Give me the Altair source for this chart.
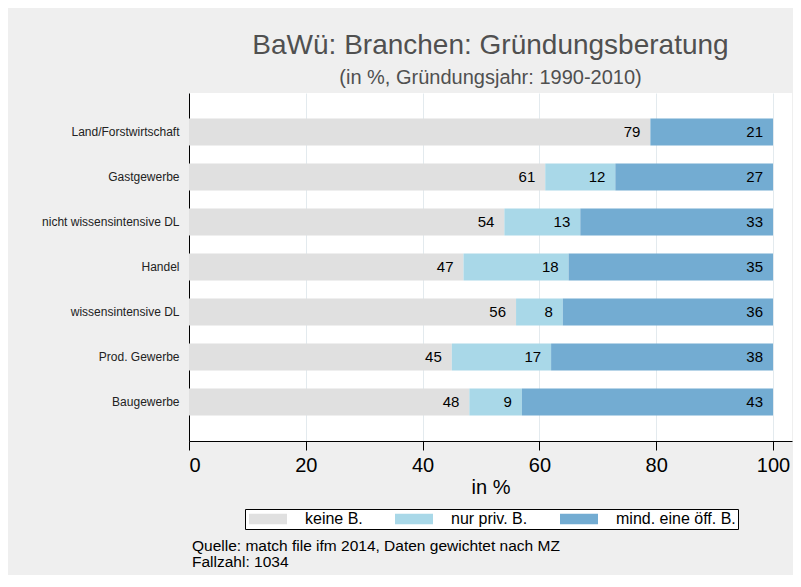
import altair as alt
import pandas as pd

categories = ["Land/Forstwirtschaft", "Gastgewerbe", "nicht wissensintensive DL",
              "Handel", "wissensintensive DL", "Prod. Gewerbe", "Baugewerbe"]
keine = [79, 61, 54, 47, 56, 45, 48]
priv = [0, 12, 13, 18, 8, 17, 9]
oeff = [21, 27, 33, 35, 36, 38, 43]
series = ["keine B.", "nur priv. B.", "mind. eine öff. B."]
colors = ["#e0e0e0", "#a9d8e8", "#73acd2"]
ticks = [0, 20, 40, 60, 80, 100]
footer = ["Quelle: match file ifm 2014, Daten gewichtet nach MZ", "Fallzahl: 1034"]

rows = []
for i, c in enumerate(categories):
    start = 0
    for j, (s, vals) in enumerate(zip(series, [keine, priv, oeff])):
        v = vals[i]
        rows.append(dict(cat=c, series=s, order=j, value=v, start=start, end=start + v))
        start += v
df = pd.DataFrame(rows)

FONT = "Liberation Sans"

xscale = alt.Scale(domain=[0, 103.25], nice=False, zero=True)
yscale = alt.Scale(paddingInner=0.4, paddingOuter=0.567)

base = alt.Chart(df)

bars = base.mark_bar().encode(
    x=alt.X("start:Q", scale=xscale,
            axis=alt.Axis(values=ticks, title="in %", grid=True, gridColor="#e3eaee",
                          domainColor="black", tickColor="black", tickSize=9,
                          labelFontSize=20, labelColor="black", labelPadding=5,
                          labelFont=FONT, titleFont=FONT, titleFontSize=20,
                          titleFontWeight="normal", titleColor="black", titlePadding=2)),
    x2="end:Q",
    y=alt.Y("cat:N", sort=categories, scale=yscale, title=None,
            axis=alt.Axis(ticks=False, domainColor="black", labelFontSize=12,
                          labelColor="#222222", labelPadding=10, labelFont=FONT,
                          labelLimit=300)),
    color=alt.Color("series:N", sort=series,
                    scale=alt.Scale(domain=series, range=colors),
                    legend=alt.Legend(title=None, orient="none", legendX=56, legendY=416,
                                      direction="horizontal", columns=3,
                                      symbolType="M-1,-0.875L5.333,-0.875L5.333,0.875L-1,0.875Z",
                                      symbolSize=144, symbolStrokeWidth=0,
                                      labelFontSize=16, labelFont=FONT, labelColor="black",
                                      labelOffset=42, columnPadding=30,
                                      strokeColor="black", fillColor="white", padding=2)),
    order=alt.Order("order:Q"),
)

labels = base.transform_filter(alt.datum.value > 0).mark_text(
    align="right", baseline="middle", dx=-10, fontSize=15, font=FONT, color="black"
).encode(
    x=alt.X("end:Q", scale=xscale),
    y=alt.Y("cat:N", sort=categories, scale=yscale),
    text="value:Q",
)

foot1 = alt.Chart(pd.DataFrame({"t": [footer[0]]})).mark_text(
    align="left", baseline="alphabetic", fontSize=15.5, font=FONT, color="black"
).encode(x=alt.value(3), y=alt.value(458), text="t:N")
foot2 = alt.Chart(pd.DataFrame({"t": [footer[1]]})).mark_text(
    align="left", baseline="alphabetic", fontSize=15.5, font=FONT, color="black"
).encode(x=alt.value(3), y=alt.value(474), text="t:N")

chart = alt.layer(bars, labels, foot1, foot2).properties(
    width=603, height=348,
    autosize=alt.AutoSizeParams(type="none"),
    padding={"left": 181, "top": 85, "right": 1, "bottom": 134},
    background="#efefef",
    title=alt.TitleParams(text="BaWü: Branchen: Gründungsberatung",
                          subtitle="(in %, Gründungsjahr: 1990-2010)",
                          anchor="middle", font=FONT, subtitleFont=FONT,
                          fontSize=28, subtitleFontSize=20, fontWeight="normal",
                          color="#505050", subtitleColor="#505050",
                          offset=5, subtitlePadding=8),
).configure_view(fill="white", strokeWidth=0)

chart.save("out.html", embed_options={"renderer": "svg", "actions": False})
